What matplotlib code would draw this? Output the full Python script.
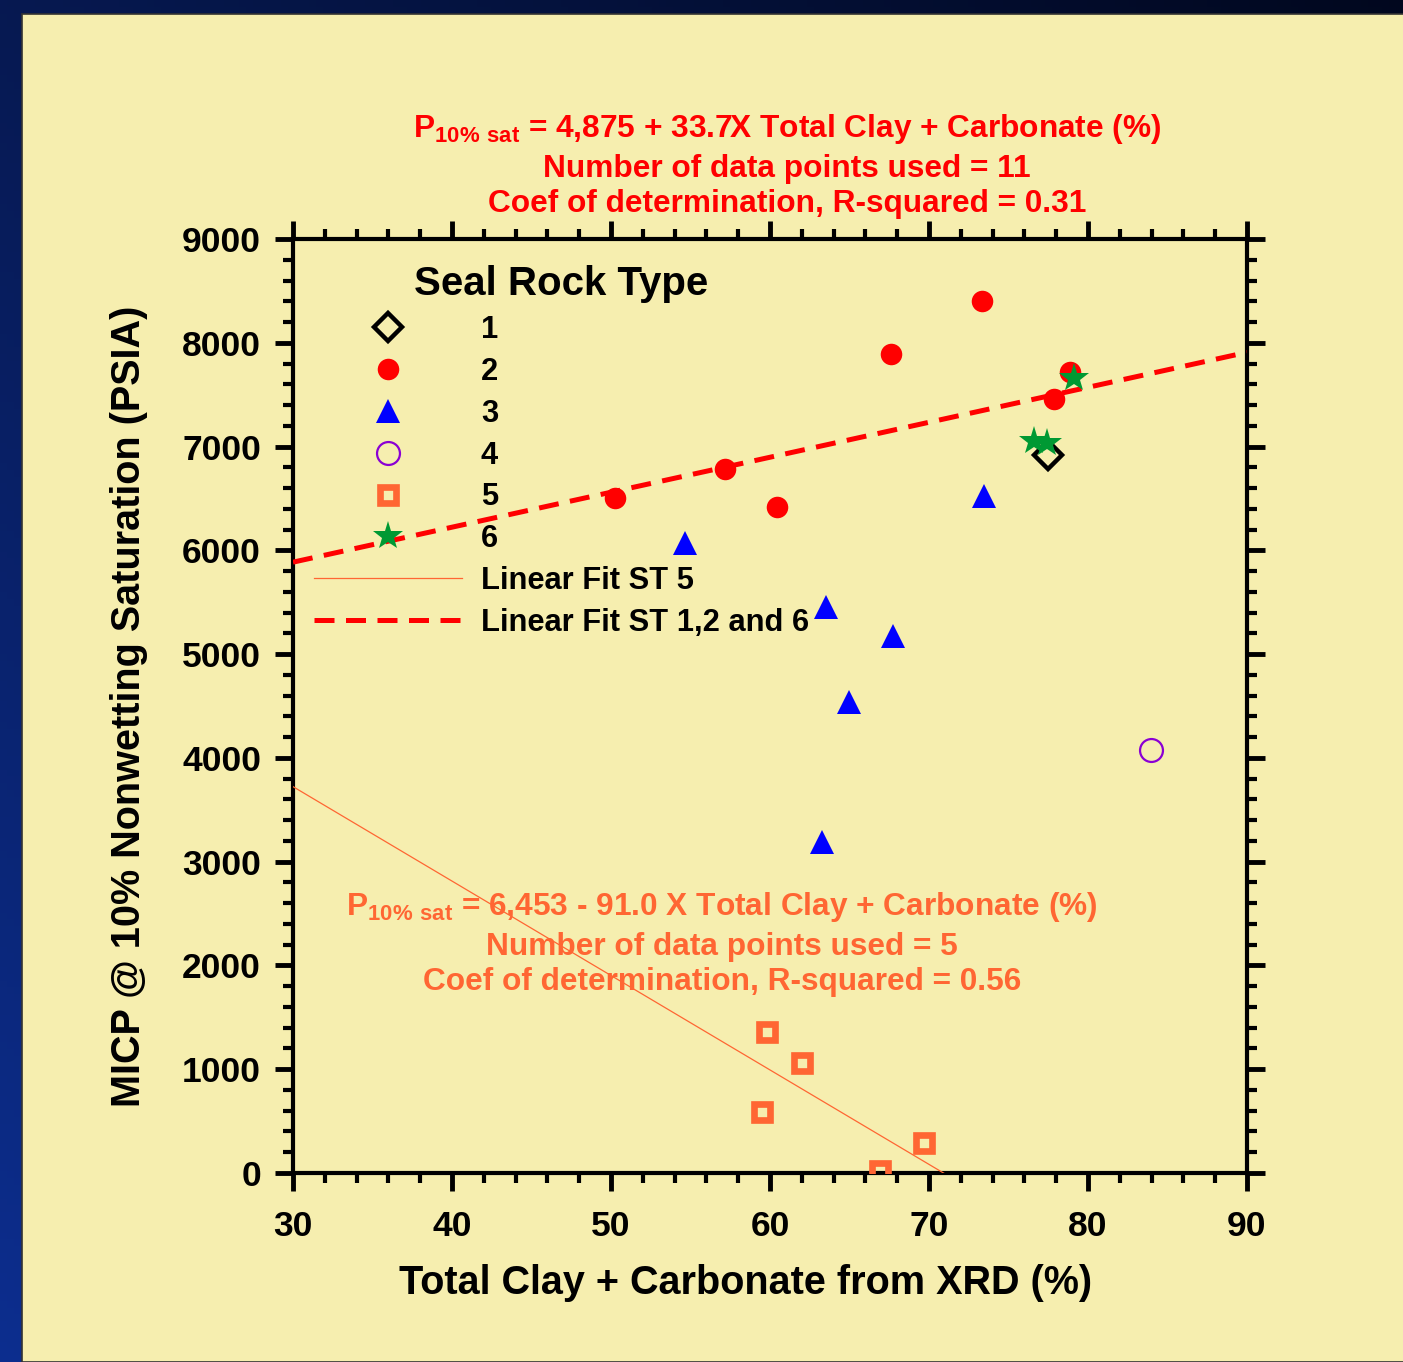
import numpy as np
import matplotlib
matplotlib.use("Agg")
import matplotlib.pyplot as plt
from matplotlib.patches import Rectangle
from matplotlib.ticker import MultipleLocator

plt.rcParams['font.family'] = ['Liberation Sans', 'DejaVu Sans']
plt.rcParams['font.weight'] = 'bold'
plt.rcParams['mathtext.default'] = 'regular'

# ---- data ----
st1_x = [77.5]
st1_y = [6920]
st2_x = [50.25, 57.2, 60.45, 67.6, 73.35, 77.85, 78.85]
st2_y = [6505, 6785, 6420, 7890, 8400, 7460, 7720]
st3_x = [54.65, 63.5, 67.75, 64.95, 63.25, 73.45]
st3_y = [6070, 5450, 5170, 4540, 3190, 6520]
st4_x = [83.95]
st4_y = [4075]
st5_x = [59.8, 62.0, 59.5, 66.9, 69.7]
st5_y = [1360, 1060, 590, 15, 290]
st6_x = [76.6, 77.4, 79.15]
st6_y = [7055, 7035, 7660]

# linear fits (intercept, slope) as printed on the chart
fit_126 = (4875, 33.7)
fit_5 = (6453, -91.0)
fit_x = [30, 90]

fig = plt.figure(figsize=(14.03, 13.62), dpi=100)

# dark blue gradient background
bg = fig.add_axes([0, 0, 1, 1], zorder=-10)
gx, gy = np.meshgrid(np.linspace(0, 1, 200), np.linspace(0, 1, 200))
t = np.clip(0.55 * gy + 0.45 * (1 - gx), 0, 1)  # 0 top-right, 1 bottom-left
c0 = np.array([0.005, 0.03, 0.12])
c1 = np.array([0.05, 0.18, 0.56])
img = c0[None, None, :] * (1 - t[..., None]) + c1[None, None, :] * t[..., None]
bg.imshow(img, origin='upper', aspect='auto', extent=[0, 1, 0, 1])
bg.add_patch(Rectangle((22 / 1403, 0), 1, 1 - 14 / 1362, transform=bg.transAxes,
                       facecolor='#F6EEAF', edgecolor='#333333', linewidth=1.2))
bg.set_xlim(0, 1)
bg.set_ylim(0, 1)
bg.axis('off')

ax = fig.add_axes([293 / 1403, 189 / 1362, 954 / 1403, 934 / 1362])
ax.set_facecolor('none')

ax.plot(st1_x, st1_y, ls='none', marker='D', ms=14, mfc='none', mec='black', mew=3.2, label='1', zorder=5)
ax.plot(st2_x, st2_y, ls='none', marker='o', ms=15.5, mfc='#FF0000', mec='#FF0000', mew=0, label='2', zorder=4)
ax.plot(st3_x, st3_y, ls='none', marker='^', ms=17, mfc='#0000FF', mec='#0000FF', mew=0, label='3', zorder=4)
ax.plot(st4_x, st4_y, ls='none', marker='o', ms=16.5, mfc='none', mec='#8A00D4', mew=1.6, label='4', zorder=4)
ax.plot(st5_x, st5_y, ls='none', marker='s', ms=11.5, mfc='none', mec='#FF6633', mew=4.8, label='5', zorder=4)
ax.plot(st6_x, st6_y, ls='none', marker='*', ms=22, mfc='#009933', mec='#009933', mew=0, label='6', zorder=6)

fx = np.array(fit_x, dtype=float)
ax.plot(fx, fit_5[0] + fit_5[1] * fx, color='#FF6633', lw=0.9, label='Linear Fit ST 5', zorder=3)
ax.plot(fx, fit_126[0] + fit_126[1] * fx, color='#FF0000', lw=3.6, dashes=(4, 2.3),
        label='Linear Fit ST 1,2 and 6', zorder=3)

ax.set_xlim(30, 90)
ax.set_ylim(0, 9000)
ax.xaxis.set_major_locator(MultipleLocator(10))
ax.xaxis.set_minor_locator(MultipleLocator(2))
ax.yaxis.set_major_locator(MultipleLocator(1000))
ax.yaxis.set_minor_locator(MultipleLocator(200))
ax.tick_params(which='both', direction='out', top=True, right=True, labelsize=25.5)
ax.tick_params(axis='x', which='major', pad=14)
ax.tick_params(axis='y', which='major', pad=10)
ax.tick_params(which='major', length=13, width=3.5)
ax.tick_params(which='minor', length=7, width=3)
for sp in ax.spines.values():
    sp.set_linewidth(3)

ax.set_xlabel('Total Clay + Carbonate from XRD (%)', fontsize=28.5, fontweight='bold')
ax.set_ylabel('MICP @ 10% Nonwetting Saturation (PSIA)', fontsize=28.5, fontweight='bold')
ax.xaxis.set_label_coords(0.474, -0.097)
ax.yaxis.set_label_coords(-0.152, 0.5)

leg = ax.legend(loc='upper left', bbox_to_anchor=(0.0126, 0.982), frameon=False,
                fontsize=22.2, title='Seal Rock Type', title_fontsize=29,
                handlelength=4.8, handletextpad=0.6, labelspacing=0.385,
                borderpad=0.3, borderaxespad=0.0)
leg.get_title().set_fontweight('bold')

narrow = ['Liberation Sans Narrow', 'Liberation Sans', 'DejaVu Sans']
top_lines = ['P$_{10\\%\\ sat}$ = 4,875 + 33.7X Total Clay + Carbonate (%)',
             'Number of data points used = 11',
             'Coef of determination, R-squared = 0.31']
top_y = [1.1092, 1.0664, 1.0289]
for s, y in zip(top_lines, top_y):
    ax.text(0.5178, y, s, transform=ax.transAxes, ha='center', va='baseline',
            fontsize=22.8, fontweight='bold', color='#FF0000', family=narrow)

bot_lines = ['P$_{10\\%\\ sat}$ = 6,453 - 91.0 X Total Clay + Carbonate (%)',
             'Number of data points used = 5',
             'Coef of determination, R-squared = 0.56']
bot_y = [0.2762, 0.2334, 0.1959]
for s, y in zip(bot_lines, bot_y):
    ax.text(0.4497, y, s, transform=ax.transAxes, ha='center', va='baseline',
            fontsize=22.8, fontweight='bold', color='#FF6633', family=narrow)

fig.savefig('out.png', dpi=100)
